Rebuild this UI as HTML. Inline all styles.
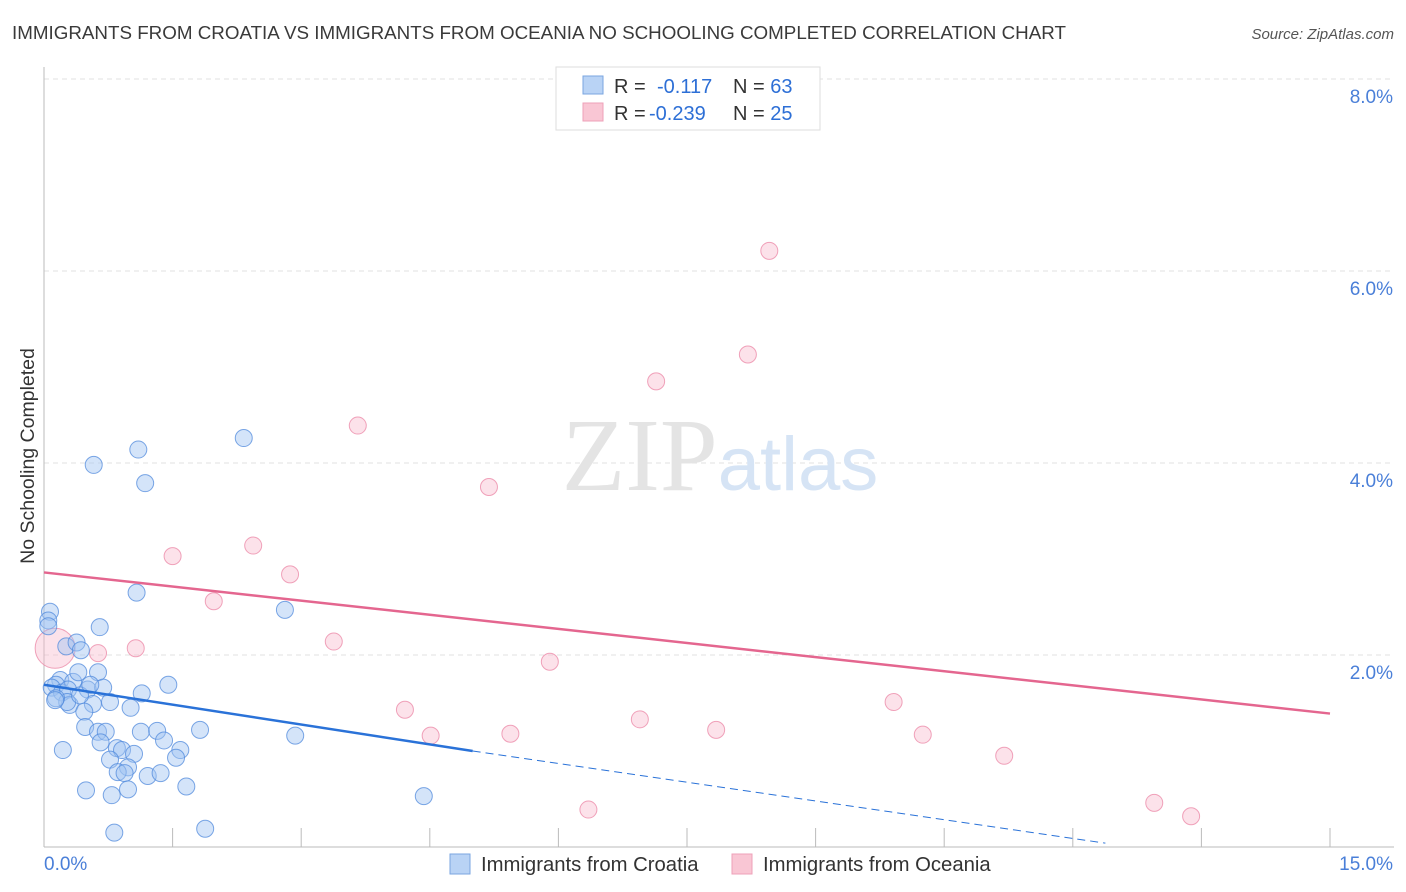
<!DOCTYPE html>
<html><head><meta charset="utf-8"><style>
body{margin:0;background:#fff;font-family:"Liberation Sans",sans-serif;}
svg{display:block}
</style></head><body>
<svg id="chart" width="1406" height="892" xmlns="http://www.w3.org/2000/svg" font-family="Liberation Sans, sans-serif">
<text x="12" y="39" font-size="18.8" fill="#3a3a3a">IMMIGRANTS FROM CROATIA VS IMMIGRANTS FROM OCEANIA NO SCHOOLING COMPLETED CORRELATION CHART</text>
<text x="1394" y="39" font-size="15" fill="#555" font-style="italic" text-anchor="end">Source: ZipAtlas.com</text>
<text transform="translate(34,456) rotate(-90)" font-size="19.5" fill="#333" text-anchor="middle">No Schooling Completed</text>
<g id="grid"></g>
<text x="720" y="490" font-size="104" text-anchor="middle" fill="#e4e4e4" font-family="Liberation Serif, serif">ZIP<tspan fill="#d6e4f5" font-family="Liberation Sans, sans-serif" font-size="76">atlas</tspan></text>
<g id="marks"></g>
<g>
<rect x="556" y="67" width="264" height="63" fill="#fff" stroke="#ddd"/>
<rect x="583" y="76" width="20" height="18" fill="#b9d3f5" stroke="#7aa6e0"/>
<rect x="583" y="103" width="20" height="18" fill="#f9c6d4" stroke="#eea0b8"/>
<text x="614" y="93" font-size="20" fill="#333">R = <tspan x="657" fill="#2d6fd6">-0.117</tspan><tspan x="733" fill="#333">N = </tspan><tspan fill="#2d6fd6">63</tspan></text>
<text x="614" y="120" font-size="20" fill="#333">R = <tspan x="649" fill="#2d6fd6">-0.239</tspan><tspan x="733" fill="#333">N = </tspan><tspan fill="#2d6fd6">25</tspan></text>
</g>
<g>
<rect x="450" y="854" width="20" height="20" fill="#b9d3f5" stroke="#7aa6e0"/>
<text x="481" y="871" font-size="20.3" fill="#333">Immigrants from Croatia</text>
<rect x="732" y="854" width="20" height="20" fill="#f9c6d4" stroke="#eea0b8"/>
<text x="763" y="871" font-size="20.3" fill="#333">Immigrants from Oceania</text>
</g>
</svg>
<script>
const xTicks=[0,1.5,3,4.5,6,7.5,9,10.5,12,13.5,15];
const yTicks=[2,4,6,8];
const yTickLabels=["2.0%","4.0%","6.0%","8.0%"];
const xEndLabels=["0.0%","15.0%"];
const croatiaX=[0.07,0.05,0.05,0.26,0.38,0.43,0.65,1.10,1.18,0.58,2.33,1.08,2.81,0.19,0.14,0.09,0.21,0.34,0.28,0.40,0.51,0.63,0.69,0.77,0.57,0.30,0.27,0.14,0.47,1.01,1.14,1.45,0.48,0.63,0.72,1.13,1.32,1.82,0.66,0.85,0.91,1.05,1.40,1.59,1.54,0.77,0.98,0.86,0.94,1.21,1.36,0.22,0.49,0.79,0.98,1.66,0.82,1.88,2.93,4.43,0.13,0.42,0.54];
const croatiaY=[2.45,2.36,2.30,2.09,2.13,2.05,2.29,4.14,3.79,3.98,4.26,2.65,2.47,1.74,1.69,1.66,1.61,1.72,1.64,1.82,1.64,1.82,1.66,1.51,1.49,1.48,1.51,1.55,1.41,1.45,1.60,1.69,1.25,1.20,1.20,1.20,1.21,1.22,1.09,1.03,1.01,0.97,1.11,1.01,0.93,0.91,0.83,0.78,0.77,0.74,0.77,1.01,0.59,0.54,0.60,0.63,0.15,0.19,1.16,0.53,1.53,1.58,1.69];
const oceaniaX=[0.13,0.63,1.07,1.50,1.98,2.44,2.87,3.38,3.66,4.21,4.51,5.19,5.44,5.90,6.35,6.95,7.14,7.84,8.21,8.46,9.91,10.25,11.20,12.95,13.38];
const oceaniaY=[2.07,2.02,2.07,3.03,2.56,3.14,2.84,2.14,4.39,1.43,1.16,3.75,1.18,1.93,0.39,1.33,4.85,1.22,5.13,6.21,1.51,1.17,0.95,0.46,0.32];
const croatiaTrend=[[0,1.69],[5.0,1.0],[12.38,0.04]];
const oceaniaTrend=[[0,2.86],[15,1.39]];
const X0=44,X1=1330,Y0=847,YPER=96;
const sx=v=>X0+(v/15)*(X1-X0);
const sy=v=>Y0-v*YPER;
const NS="http://www.w3.org/2000/svg";
function mk(p,tag,attrs){const e=document.createElementNS(NS,tag);for(const k in attrs)e.setAttribute(k,attrs[k]);p.appendChild(e);return e;}
const grid=document.getElementById('grid'),marks=document.getElementById('marks');
yTicks.forEach((t,i)=>{
 const g=mk(grid,'line',{x1:X0,x2:1394,y1:sy(t),y2:sy(t),stroke:'#e2e2e2','stroke-dasharray':'5,4'});
 
 
 const l=mk(grid,'text',{x:1393,y:sy(t)+24,'font-size':19,fill:'#4a7fd8','text-anchor':'end'});
 l.textContent=yTickLabels[i];
 
 
});
const ya=mk(grid,'line',{x1:X0,x2:X0,y1:67,y2:Y0,stroke:'#bbb'});


const xa=mk(grid,'line',{x1:X0,x2:1394,y1:Y0,y2:Y0,stroke:'#bbb'});


xTicks.forEach(t=>{
 const k=mk(grid,'line',{x1:sx(t),x2:sx(t),y1:Y0-19,y2:Y0,stroke:'#bbb'});
 
 
});
const xl0=mk(grid,'text',{x:44,y:870,'font-size':19,fill:'#4a7fd8'});xl0.textContent=xEndLabels[0];


const xl1=mk(grid,'text',{x:1393,y:870,'font-size':19,fill:'#4a7fd8','text-anchor':'end'});xl1.textContent=xEndLabels[1];


oceaniaX.forEach((x,i)=>{
 const c=mk(marks,'circle',{cx:sx(x),cy:sy(oceaniaY[i]),r:i===0?20:8.5,fill:'rgba(248,182,202,0.4)',stroke:'rgba(236,140,170,0.8)','stroke-width':1});
 
 
});
croatiaX.forEach((x,i)=>{
 const c=mk(marks,'circle',{cx:sx(x),cy:sy(croatiaY[i]),r:8.5,fill:'rgba(160,196,242,0.45)',stroke:'rgba(80,138,220,0.75)','stroke-width':1});
 
 
});
const bt=mk(marks,'line',{x1:sx(croatiaTrend[0][0]),y1:sy(croatiaTrend[0][1]),x2:sx(croatiaTrend[1][0]),y2:sy(croatiaTrend[1][1]),stroke:'#2a72d8','stroke-width':2.5});


const bd=mk(marks,'line',{x1:sx(croatiaTrend[1][0]),y1:sy(croatiaTrend[1][1]),x2:sx(croatiaTrend[2][0]),y2:sy(croatiaTrend[2][1]),stroke:'#2a72d8','stroke-width':1,'stroke-dasharray':'8,5'});


const pt=mk(marks,'line',{x1:sx(oceaniaTrend[0][0]),y1:sy(oceaniaTrend[0][1]),x2:sx(oceaniaTrend[1][0]),y2:sy(oceaniaTrend[1][1]),stroke:'#e4668f','stroke-width':2.5});


</script>
</body></html>
